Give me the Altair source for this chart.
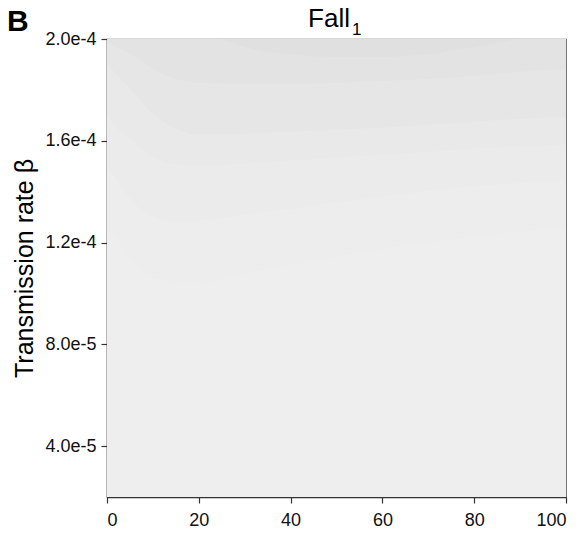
import altair as alt
import pandas as pd

# x positions at which the contour lines were read
cx = [0, 2, 5, 10, 15, 20, 30, 40, 50, 60, 70, 80, 90, 100]

# contour boundaries (transmission rate at each cx); region ABOVE each line is darker
c5 = [1.255e-4, 1.216e-4, 1.137e-4, 1.067e-4, 1.043e-4, 1.043e-4, 1.078e-4, 1.114e-4, 1.145e-4, 1.176e-4, 1.200e-4, 1.224e-4, 1.243e-4, 1.255e-4]
c4 = [1.490e-4, 1.451e-4, 1.373e-4, 1.302e-4, 1.282e-4, 1.286e-4, 1.310e-4, 1.333e-4, 1.357e-4, 1.380e-4, 1.404e-4, 1.420e-4, 1.435e-4, 1.443e-4]
c3 = [1.706e-4, 1.655e-4, 1.608e-4, 1.537e-4, 1.506e-4, 1.502e-4, 1.510e-4, 1.522e-4, 1.533e-4, 1.545e-4, 1.557e-4, 1.569e-4, 1.576e-4, 1.584e-4]
c2 = [1.902e-4, 1.863e-4, 1.804e-4, 1.706e-4, 1.647e-4, 1.624e-4, 1.627e-4, 1.635e-4, 1.643e-4, 1.651e-4, 1.663e-4, 1.675e-4, 1.686e-4, 1.694e-4]
c1 = [1.988e-4, 1.969e-4, 1.941e-4, 1.882e-4, 1.843e-4, 1.827e-4, 1.824e-4, 1.824e-4, 1.827e-4, 1.835e-4, 1.843e-4, 1.855e-4, 1.871e-4, 1.882e-4]
c0_x = [25, 30, 40, 50, 60, 70, 80, 90]
c0 = [2.000e-4, 1.969e-4, 1.941e-4, 1.929e-4, 1.929e-4, 1.941e-4, 1.969e-4, 2.000e-4]

# gray level of the area above each contour (and of the background)
base_shade = 238
band_shades = [237, 235, 232.5, 229.5, 226.5, 223.5]

x_ticks = [0, 20, 40, 60, 80, 100]
y_ticks = [4.0e-5, 8.0e-5, 1.2e-4, 1.6e-4, 2.0e-4]
Y_MIN, Y_MAX = 2.0e-5, 2.0e-4

FONT = "Liberation Sans"
color_scale = alt.Scale(domain=[200, 255], range=["#c8c8c8", "#ffffff"], interpolate="rgb")
x_scale = alt.Scale(domain=[0, 100], nice=False)
y_scale = alt.Scale(domain=[Y_MIN, Y_MAX], nice=False, zero=False)

bands = [(cx, c5), (cx, c4), (cx, c3), (cx, c2), (cx, c1), (c0_x, c0)]

# background band (whole plot area)
bg = pd.DataFrame({"x": [0, 100], "y": [Y_MIN, Y_MIN], "top": [Y_MAX, Y_MAX],
                   "shade": [base_shade, base_shade]})
layers = [alt.Chart(bg).mark_area().encode(
    x=alt.X("x:Q", scale=x_scale,
            axis=alt.Axis(values=x_ticks, title=None, format="d")),
    y=alt.Y("y:Q", scale=y_scale,
            axis=alt.Axis(values=y_ticks, format=".1e", title="Transmission rate β")),
    y2="top:Q",
    color=alt.Color("shade:Q", scale=color_scale, legend=None),
)]

for (xs, ys), shade in zip(bands, band_shades):
    d = pd.DataFrame({"x": xs, "y": ys, "top": [Y_MAX] * len(xs), "shade": [shade] * len(xs)})
    layers.append(alt.Chart(d).mark_area(interpolate="monotone").encode(
        x=alt.X("x:Q", scale=x_scale),
        y=alt.Y("y:Q", scale=y_scale),
        y2="top:Q",
        color=alt.Color("shade:Q", scale=color_scale, legend=None),
    ))

label_b = alt.Chart(pd.DataFrame({"t": ["B"]})).mark_text(
    font=FONT, fontSize=30, fontWeight="bold", align="left", baseline="alphabetic", color="#000"
).encode(text="t:N", x=alt.value(-100), y=alt.value(-8))

title_main = alt.Chart(pd.DataFrame({"t": ["Fall"]})).mark_text(
    font=FONT, fontSize=26, align="center", baseline="alphabetic", color="#000"
).encode(text="t:N", x=alt.value(222), y=alt.value(-12))

title_sub = alt.Chart(pd.DataFrame({"t": ["1"]})).mark_text(
    font=FONT, fontSize=17, align="left", baseline="alphabetic", color="#000"
).encode(text="t:N", x=alt.value(245), y=alt.value(-4))

layers += [label_b, title_main, title_sub]

chart = alt.layer(*layers).properties(
    width=459, height=458,
    autosize=alt.AutoSizeParams(type="none"),
    padding={"left": 107, "top": 39, "right": 17, "bottom": 40},
).configure_view(
    stroke="#666", strokeWidth=1.2
).configure_axis(
    labelFont=FONT, labelFontSize=18, labelColor="#111",
    titleFont=FONT, titleFontSize=25, titleFontWeight="normal", titleColor="#000",
    domainColor="#333", domainWidth=1.3, tickColor="#333", tickSize=6, tickWidth=1.2,
    grid=False
).configure_axisX(labelPadding=8).configure_axisY(labelPadding=5, titlePadding=7)

chart.save("out.html", embed_options={"renderer": "svg", "actions": False})
